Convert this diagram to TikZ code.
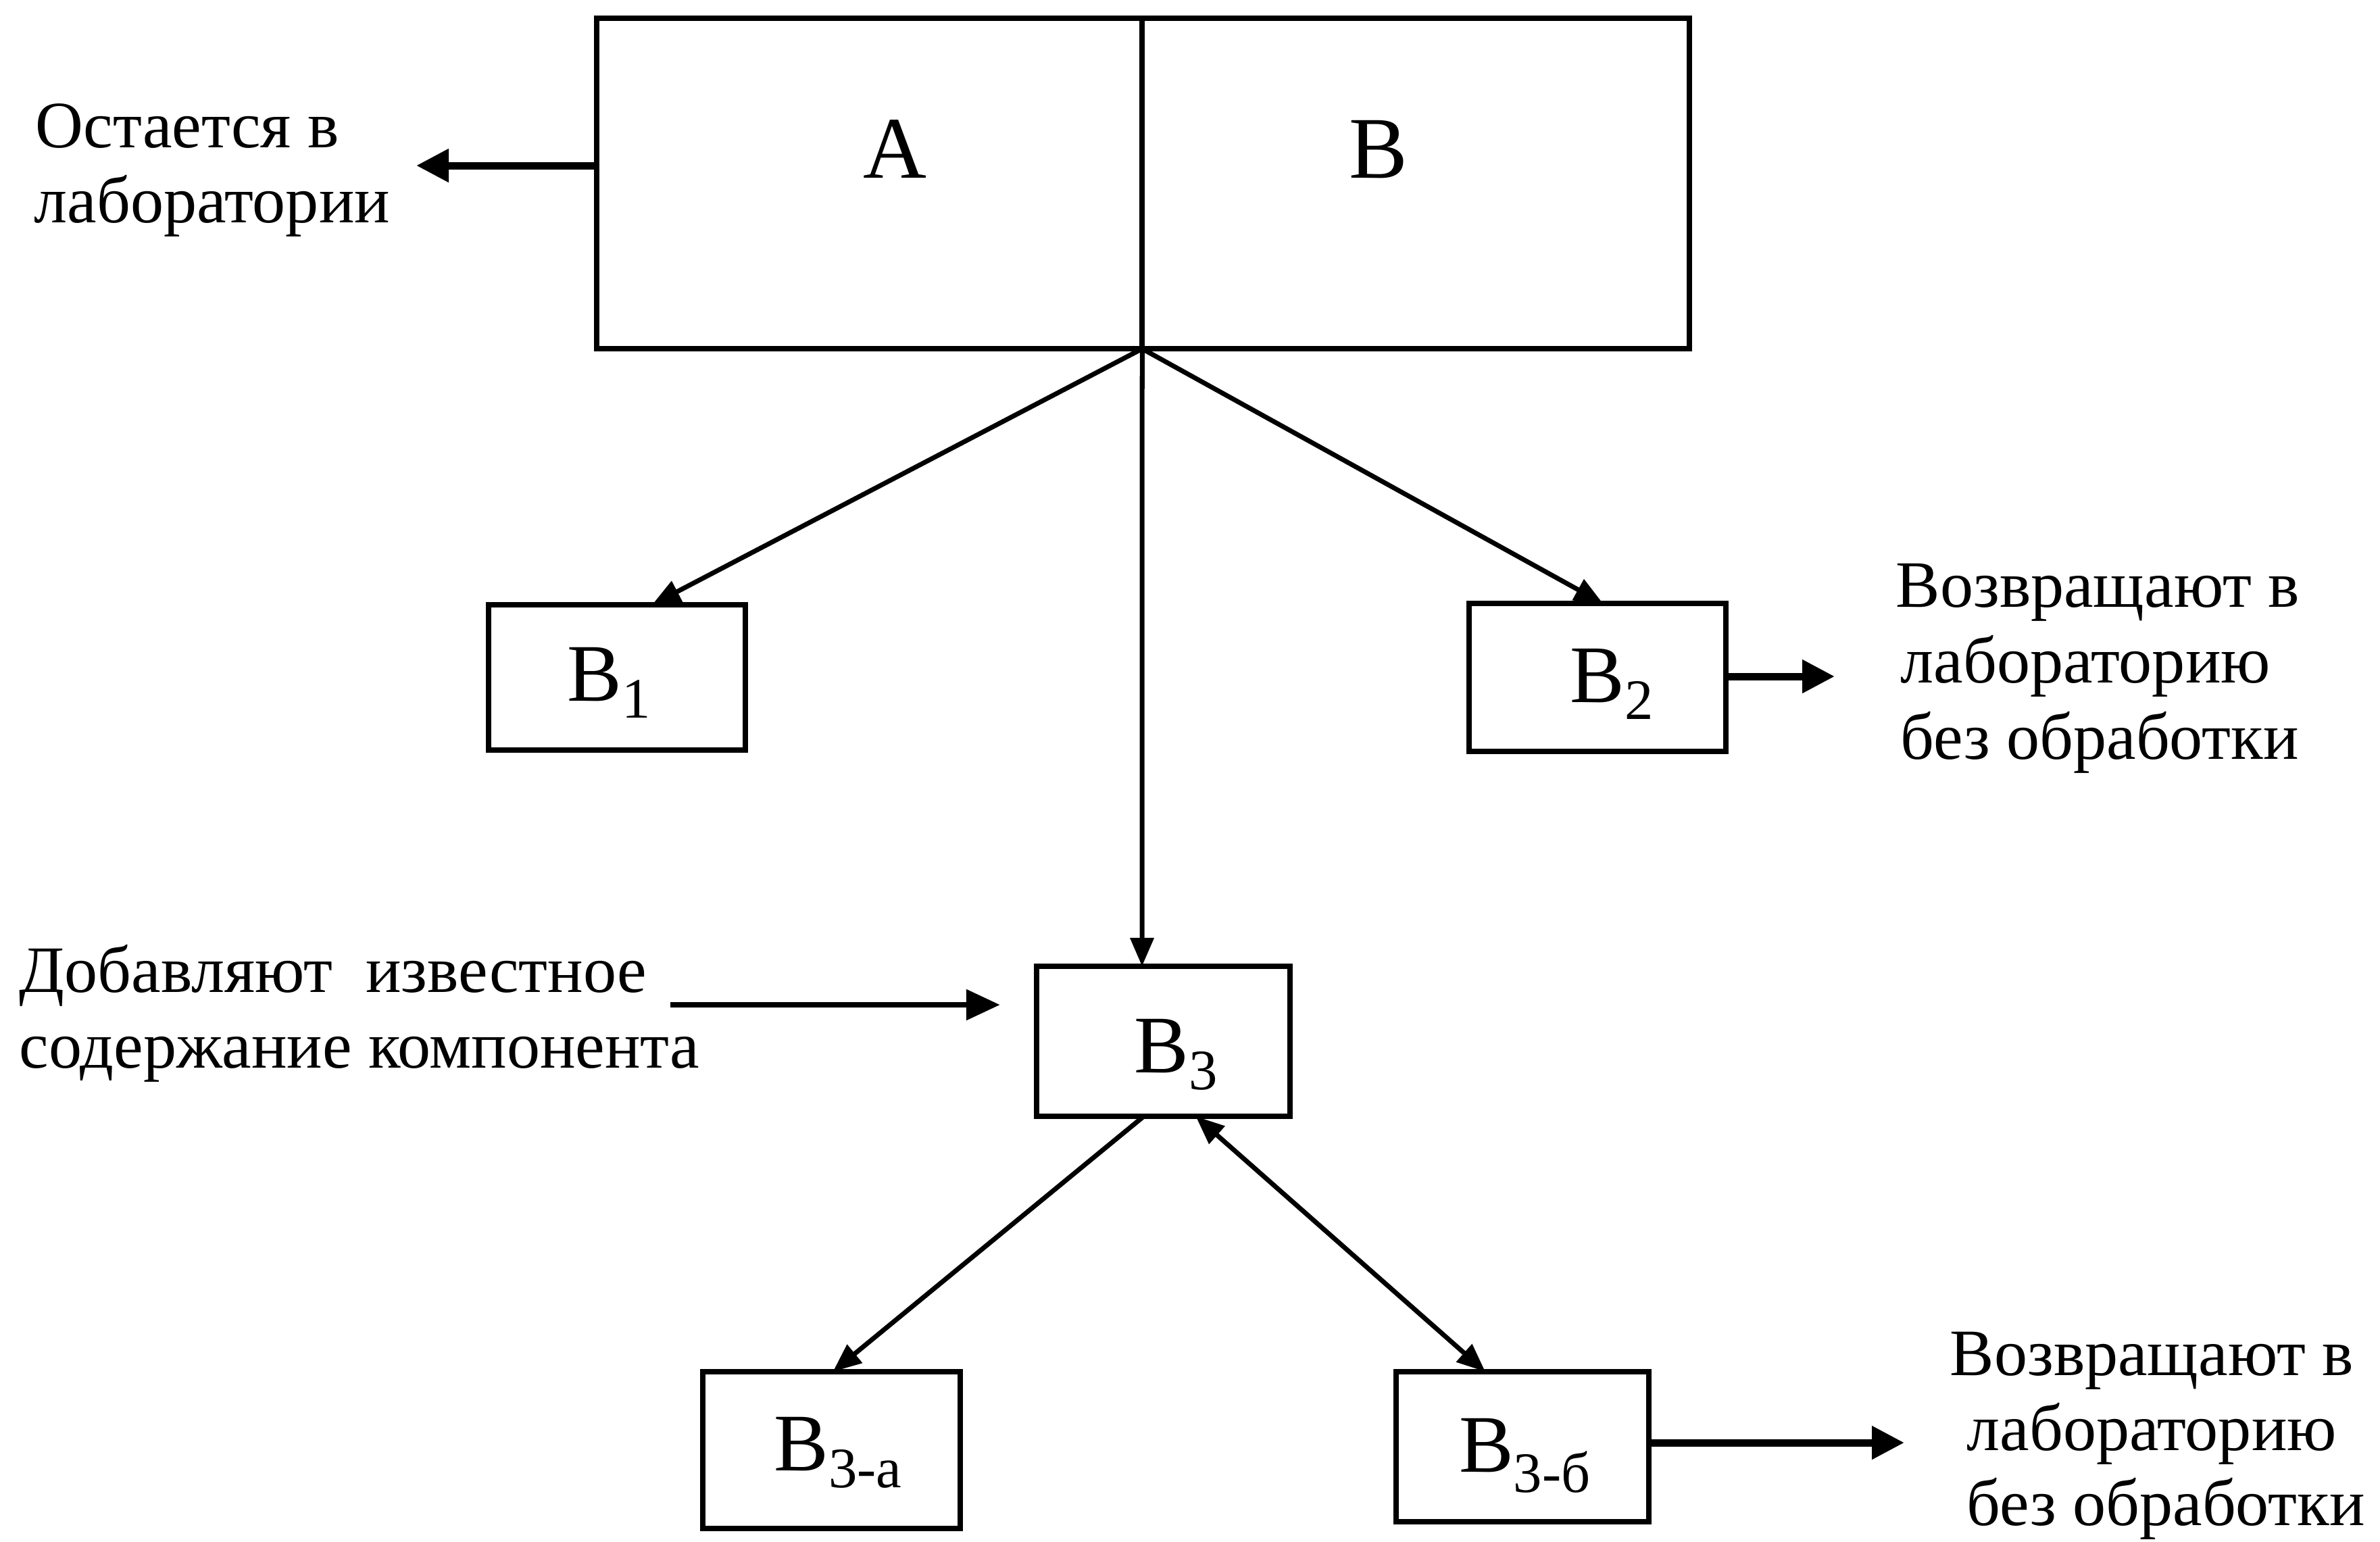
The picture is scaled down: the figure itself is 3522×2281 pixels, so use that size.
\documentclass[tikz,border=0pt]{standalone}
\usepackage{fontspec}
\setmainfont{Liberation Serif}
\usetikzlibrary{arrows.meta,calc}
\begin{document}
\begin{tikzpicture}[x=0.01cm,y=-0.01cm,
  box/.style={draw,line width=0.08cm,inner sep=0pt,outer sep=0pt},
  side/.style={anchor=base west,inner sep=0pt,font=\fontsize{27.9}{31}\selectfont},
  lab/.style={anchor=base,inner sep=0pt,font=\fontsize{34.4}{38}\selectfont},
  big/.style={anchor=base,inner sep=0pt,font=\fontsize{37}{40}\selectfont},
  arr/.style={line width=0.07cm,-{Triangle[length=0.42cm,width=0.34cm]}},
  harr/.style={line width=0.11cm,-{Triangle[length=0.48cm,width=0.47cm]}},
  darr/.style={line width=0.07cm,{Triangle[length=0.42cm,width=0.34cm]}-{Triangle[length=0.42cm,width=0.34cm]}}]
\useasboundingbox (0,0) rectangle (3522,2281);
% main rectangle halves
\node[box,minimum width=8.07cm,minimum height=4.89cm] (AL) at (1286.5,271.5) {};
\node[box,minimum width=8.10cm,minimum height=4.89cm] (AR) at (2095,271.5) {};
\node[big] (tA) at (1324,263) {A};
\node[big] (tB) at (2040,263) {B};
% boxes
\node[box,minimum width=3.80cm,minimum height=2.15cm] (B1) at (913,1002.5) {};
\node[box,minimum width=3.80cm,minimum height=2.19cm] (B2) at (2364,1002.5) {};
\node[box,minimum width=3.75cm,minimum height=2.22cm] (B3) at (1721.5,1541) {};
\node[box,minimum width=3.81cm,minimum height=2.32cm] (B3a) at (1230.5,2146) {};
\node[box,minimum width=3.74cm,minimum height=2.22cm] (B3b) at (2253,2141) {};
% labels
\node[lab] (lB1) at (902,1037) {B\textsubscript{1}};
\node[lab] (lB2) at (2386,1039) {B\textsubscript{2}};
\node[lab] (lB3) at (1741,1587) {B\textsubscript{3}};
\node[lab] (lB3a) at (1241,2176) {B\textsubscript{3-а}};
\node[lab] (lB3b) at (2257,2178) {B\textsubscript{3-б}};
% side texts
\node[side] (s1a) at (52,218) {Остается в};
\node[side] (s1b) at (50,329) {лаборатории};
\node[side] (s2a) at (2805,898) {Возвращают в};
\node[side] (s2b) at (2812,1010) {лабораторию};
\node[side] (s2c) at (2812,1123) {без обработки};
\node[side] (s3a) at (28,1468) {Добавляют\ \ известное};
\node[side] (s3b) at (28,1580) {содержание компонента};
\node[side] (s4a) at (2885,2035) {Возвращают в};
\node[side] (s4b) at (2910,2146) {лабораторию};
\node[side] (s4c) at (2910,2257) {без обработки};
% coordinates
\coordinate (j) at (AL.south east);
\coordinate (lefttip) at (616,245);
\coordinate (addst) at (992,1487);
\coordinate (addtip) at ($(B3.west)+(-54,-54)$);
\coordinate (b2tip) at (2715,1001);
\coordinate (b3btip) at (2818,2135);
% connectors
\draw[harr] ($(AL.west)+(0,-26.5)$) -- (lefttip);
\draw[arr] (j) -- ($(B1.north)+(52,0)$);
\draw[arr] (j) -- ($(B2.north)+(8,0)$);
\draw[arr] (j) -- ($(B3.north)+(-31.5,0)$);
\draw[line width=0.085cm,-{Triangle[length=0.5cm,width=0.44cm]}] (addst) -- (addtip);
\draw[harr] (B2.east |- b2tip) -- (b2tip);
\draw[arr] ($(B3.south)+(-29,0)$) -- ($(B3a.north)+(2,0)$);
\draw[darr] ($(B3.south)+(48,0)$) -- ($(B3b.north)+(-55,0)$);
\draw[harr] (B3b.east |- b3btip) -- (b3btip);
\end{tikzpicture}
\end{document}
